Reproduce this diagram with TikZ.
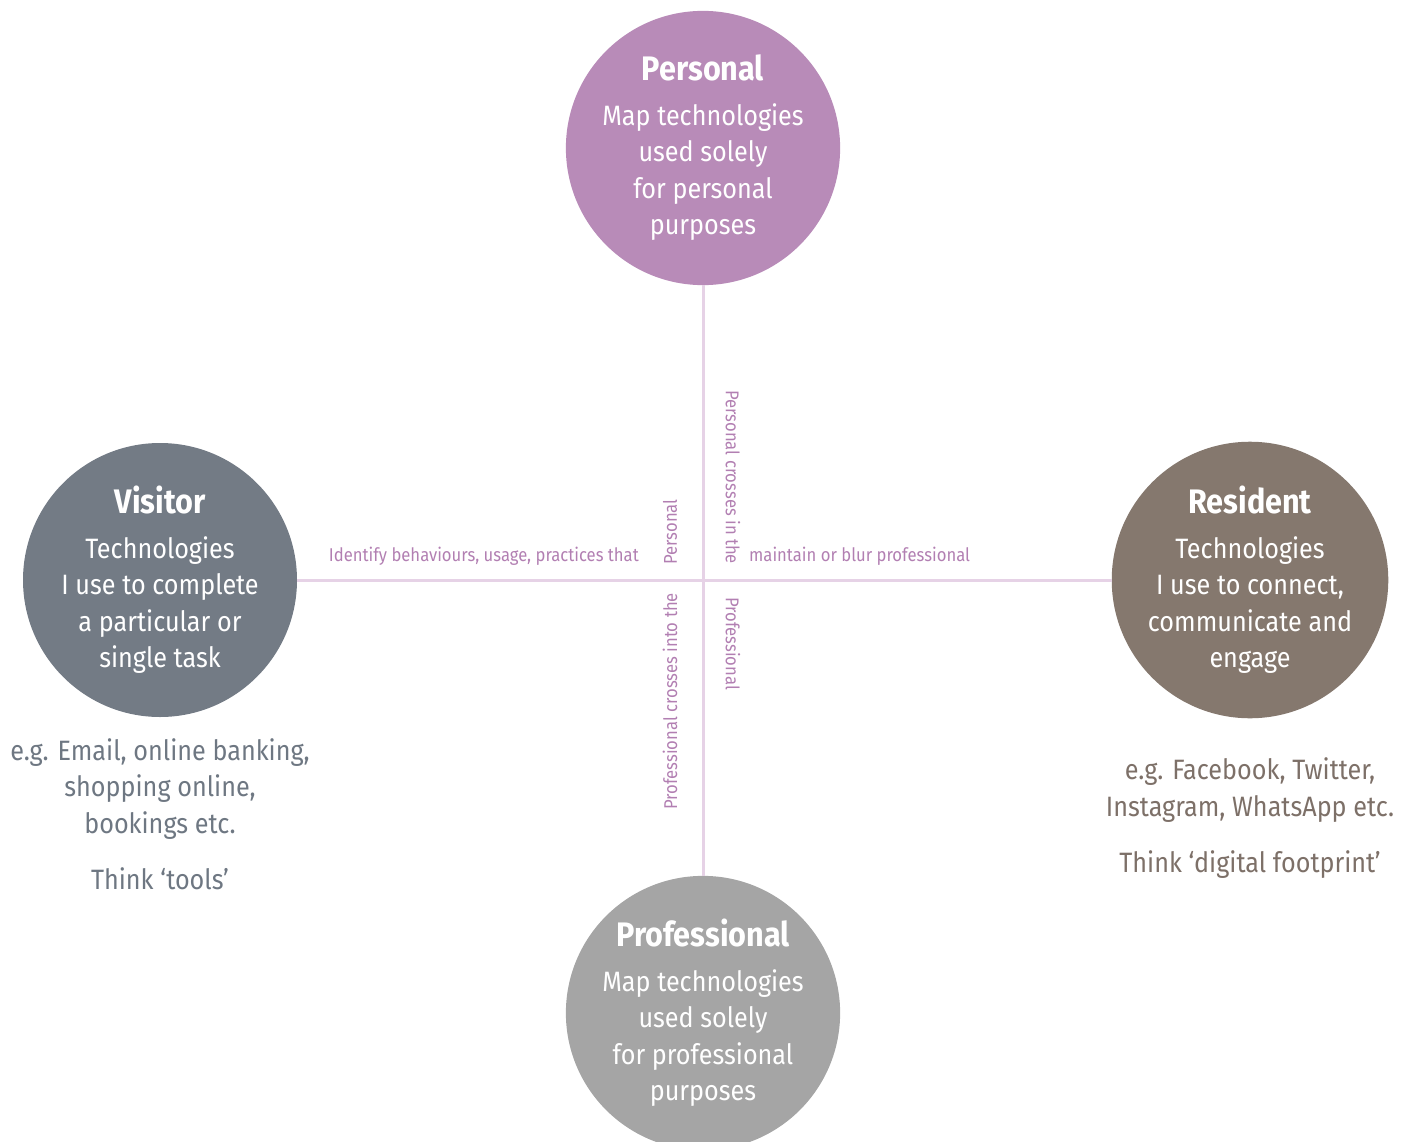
\documentclass[tikz,border=0pt]{standalone}
\usepackage{fontspec}
\setmainfont[FakeStretch=0.9]{Fira Sans}
\usetikzlibrary{positioning}
\definecolor{personalc}{HTML}{B88BB8}
\definecolor{visitorc}{HTML}{737B85}
\definecolor{residentc}{HTML}{85786E}
\definecolor{professionalc}{HTML}{A5A5A5}
\definecolor{axisc}{HTML}{E6D2E6}
\definecolor{labelc}{HTML}{B27FB2}
\definecolor{visitortxt}{HTML}{6E7782}
\definecolor{residenttxt}{HTML}{7D7068}
\tikzset{
  bigcircle/.style={circle, minimum size=274pt, inner sep=0pt, text=white, align=center,
    font=\fontsize{28}{36.5}\selectfont},
  axis/.style={draw=axisc, line width=3pt},
  axislabel/.style={text=labelc, inner sep=0pt, font=\fontsize{18.5}{22}\selectfont},
  sidetext/.style={align=center, inner sep=0pt, font=\fontsize{28}{36.5}\selectfont}
}
\newcommand{\ctitle}[1]{{\fontsize{34}{36}\selectfont\bfseries #1}\\[8pt]}
\begin{document}
\begin{tikzpicture}[x=1pt, y=-1pt]
  \useasboundingbox (0,0) rectangle (1413,1142);
  % the four circles
  \node (personal) at (703,148) [bigcircle, fill=personalc]
    {\ctitle{Personal}Map technologies\\used solely\\for personal\\purposes};
  \node (professional) at (703,1013) [bigcircle, fill=professionalc]
    {\ctitle{Professional}Map technologies\\used solely\\for professional\\purposes};
  \node (visitor) at (160,580) [bigcircle, fill=visitorc]
    {\ctitle{Visitor}Technologies\\I use to complete\\a particular or\\single task};
  \node (resident) at (1250,580) [bigcircle, fill=residentc]
    {\ctitle{Resident}Technologies\\I use to connect,\\communicate and\\engage};
  % axes
  \draw[axis] (personal) -- (professional);
  \draw[axis] (visitor) -- (resident);
  % labels round the crossing
  \node (identify) at (639,556) [axislabel, anchor=east] {Identify behaviours, usage, practices that};
  \node (maintain) at (749,556) [axislabel, anchor=west] {maintain or blur professional};
  \node (persup) at (670,565) [axislabel, rotate=90, anchor=west] {Personal};
  \node (perscross) at (733,390) [axislabel, rotate=-90, anchor=west] {Personal crosses in the};
  \node (profcross) at (670,810) [axislabel, rotate=90, anchor=west] {Professional crosses into the};
  \node (profdown) at (733,597) [axislabel, rotate=-90, anchor=west] {Professional};
  % examples
  \node (visitorex) [sidetext, text=visitortxt, below=21pt of visitor]
    {e.g. Email, online banking,\\shopping online,\\bookings etc.\\[20pt]Think ‘tools’};
  \node (residentex) [sidetext, text=residenttxt, below=39pt of resident]
    {e.g. Facebook, Twitter,\\Instagram, WhatsApp etc.\\[20pt]Think ‘digital footprint’};
\end{tikzpicture}
\end{document}
